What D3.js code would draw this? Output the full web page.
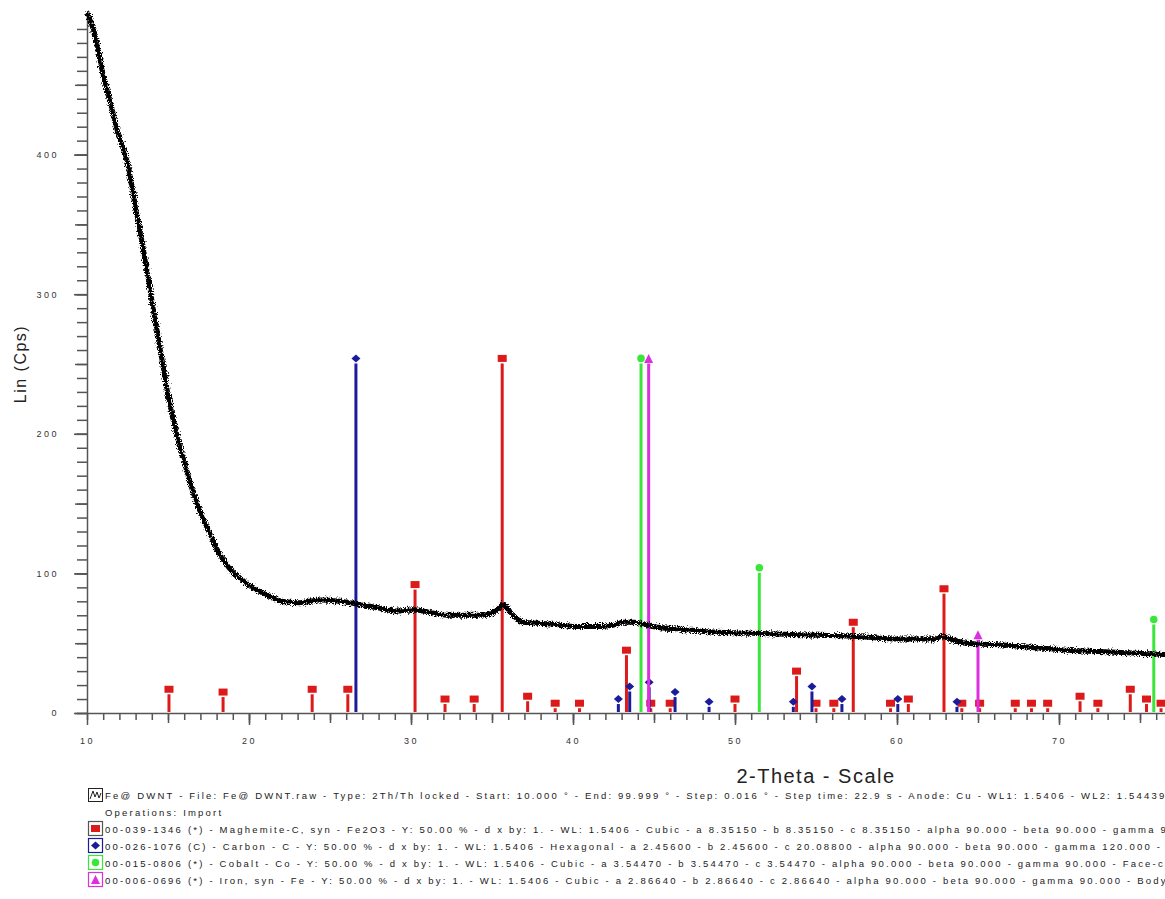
<!DOCTYPE html>
<html lang="en">
<head>
<meta charset="UTF-8">
<script src="https://d3js.org/d3.v7.min.js"></script>
<title>Fe@DWNT XRD</title>
<style>
  body { margin: 0; background: #fff; }
  svg text { font-family: "Liberation Sans", Arial, sans-serif; }
</style>
</head>
<body>
<div id="chart"></div>
<script>
// measured scan (2-theta, Lin Cps)
var scanTheta = [10.0, 10.5, 10.9, 11.4, 11.9, 12.5, 13.0, 13.5, 14.0, 14.5, 15.0, 15.55, 16.05, 16.55, 17.1, 17.6, 18.0, 19.0, 19.5, 20.2, 21.4, 22.0, 23.1, 24.4, 25.6, 26.7, 28.1, 29.1, 30.2, 31.2, 32.2, 33.3, 34.3, 35.1, 35.5, 35.7, 36.0, 36.3, 36.9, 38.4, 40.4, 41.7, 42.5, 43.1, 43.8, 44.9, 46.6, 48.6, 51.4, 54.0, 57.2, 60.2, 62.3, 62.8, 63.3, 64.3, 66.0, 68.4, 70.5, 72.5, 74.5, 76.2, 78.0];
var scanCps   = [502, 485, 462, 439, 416, 394, 362, 331, 296, 262, 228, 199, 178, 158, 141, 128, 118, 101, 96, 90, 83, 80, 79, 81, 80, 78, 75, 73, 74, 72, 70, 70, 70, 72, 76, 78, 74, 70, 65, 64, 62, 62, 63, 65, 65, 62, 60, 58, 57, 56, 55, 53, 53, 55, 53, 50, 49, 47, 45, 44, 43, 42, 41];

// reference patterns (stick positions and heights)
var maghemiteTheta = [15.06, 18.4, 23.9, 26.1, 30.25, 32.1, 33.9, 35.63, 37.2, 38.9, 40.4, 43.3, 44.8, 46.0, 50.0, 53.8, 55.0, 56.1, 57.3, 59.6, 60.7, 62.9, 64.0, 65.1, 67.3, 68.3, 69.3, 71.3, 72.4, 74.4, 75.4, 76.3];
var maghemiteI     = [17, 15, 17, 17, 92, 10, 10, 254, 12, 7, 7, 45, 7, 7, 10, 30, 7, 7, 65, 7, 10, 89, 7, 7, 7, 7, 7, 12, 7, 17, 10, 7];
var carbonTheta = [26.6, 42.8, 43.5, 44.7, 46.3, 48.4, 53.6, 54.75, 56.6, 60.05, 63.7];
var carbonI     = [254, 10, 19, 22, 15, 8, 8, 19, 10, 10, 8];
var cobaltTheta = [44.2, 51.5, 75.85];
var cobaltI     = [254, 104, 67];
var ironTheta = [44.67, 65.0];
var ironI     = [254, 56];

var yMajor = [0, 100, 200, 300, 400];
var xMajor = [10, 20, 30, 40, 50, 60, 70];

// legend lines, as far as the picture shows them
var legendScan = "Fe@ DWNT - File: Fe@ DWNT.raw - Type: 2Th/Th locked - Start: 10.000 ° - End: 99.999 ° - Step: 0.016 ° - Step time: 22.9 s - Anode: Cu - WL1: 1.5406 - WL2: 1.54439";
var legendOps = "Operations: Import";
var legendPhases = [
  "00-039-1346 (*) - Maghemite-C, syn - Fe2O3 - Y: 50.00 % - d x by: 1. - WL: 1.5406 - Cubic - a 8.35150 - b 8.35150 - c 8.35150 - alpha 90.000 - beta 90.000 - gamma 90.000",
  "00-026-1076 (C) - Carbon - C - Y: 50.00 % - d x by: 1. - WL: 1.5406 - Hexagonal - a 2.45600 - b 2.45600 - c 20.08800 - alpha 90.000 - beta 90.000 - gamma 120.000 -",
  "00-015-0806 (*) - Cobalt - Co - Y: 50.00 % - d x by: 1. - WL: 1.5406 - Cubic - a 3.54470 - b 3.54470 - c 3.54470 - alpha 90.000 - beta 90.000 - gamma 90.000 - Face-centered",
  "00-006-0696 (*) - Iron, syn - Fe - Y: 50.00 % - d x by: 1. - WL: 1.5406 - Cubic - a 2.86640 - b 2.86640 - c 2.86640 - alpha 90.000 - beta 90.000 - gamma 90.000 - Body"
];

var W = 1165, H = 899;
var svg = d3.select("#chart").append("svg")
    .attr("width", W).attr("height", H)
    .style("display", "block");

var x = d3.scaleLinear().domain([10, 100]).range([87, 1545]);
var y = d3.scaleLinear().domain([0, 500]).range([713, 15]);

// rough edge for the noisy scan line
var defs = svg.append("defs");
var f = defs.append("filter").attr("id", "rough")
    .attr("x", "-5%").attr("y", "-5%").attr("width", "110%").attr("height", "110%");
f.append("feTurbulence").attr("type", "fractalNoise").attr("baseFrequency", "1.2 0.9")
    .attr("numOctaves", 2).attr("seed", 3).attr("result", "n");
f.append("feDisplacementMap").attr("in", "SourceGraphic").attr("in2", "n")
    .attr("scale", 7).attr("xChannelSelector", "R").attr("yChannelSelector", "G");

// axes
var axisColor = "#555";
function styleAxis(g) {
  g.selectAll("path, line").attr("stroke", axisColor).attr("stroke-width", 1.5);
  g.selectAll("text").attr("fill", "#333").style("font-size", "9px").style("letter-spacing", "2.5px");
}

svg.append("g").attr("transform", "translate(87,0)")
  .call(d3.axisLeft(y).tickValues(d3.range(0, 500, 10)).tickSize(10).tickSizeOuter(0).tickFormat(""))
  .call(styleAxis);
svg.append("g").attr("transform", "translate(87,0)")
  .call(d3.axisLeft(y).tickValues(d3.range(0, 500, 50)).tickSize(12).tickFormat(""))
  .call(styleAxis).call(function (g) { g.select(".domain").remove(); });
svg.append("g").attr("transform", "translate(87,0)")
  .call(d3.axisLeft(y).tickValues(yMajor).tickSize(13).tickPadding(15).tickFormat(d3.format("d")))
  .call(styleAxis).call(function (g) { g.select(".domain").remove(); });

svg.append("g").attr("transform", "translate(0,713)")
  .call(d3.axisBottom(x).tickValues(d3.range(10, 101, 1)).tickSize(7).tickSizeOuter(0).tickFormat(""))
  .call(styleAxis);
svg.append("g").attr("transform", "translate(0,713)")
  .call(d3.axisBottom(x).tickValues(d3.range(15, 101, 5)).tickSize(10).tickFormat(""))
  .call(styleAxis).call(function (g) { g.select(".domain").remove(); });
svg.append("g").attr("transform", "translate(0,713)")
  .call(d3.axisBottom(x).tickValues(xMajor).tickSize(12).tickPadding(13).tickFormat(d3.format("d")))
  .call(styleAxis).call(function (g) { g.select(".domain").remove(); });

// axis titles
svg.append("text").attr("x", (x(10) + x(100)) / 2).attr("y", 783)
  .attr("text-anchor", "middle").attr("fill", "#222")
  .style("font-size", "20px").style("letter-spacing", "1.5px")
  .text("2-Theta - Scale");
svg.append("text").attr("transform", "translate(26," + ((y(0) + y(500)) / 2) + ") rotate(-90)")
  .attr("text-anchor", "middle").attr("fill", "#222")
  .style("font-size", "16px").style("letter-spacing", "1.5px")
  .text("Lin (Cps)");

// reference sticks
var phases = [
  { theta: maghemiteTheta, inten: maghemiteI, color: "#dd1a1a", shape: "square" },
  { theta: carbonTheta, inten: carbonI, color: "#1c1c9a", shape: "diamond" },
  { theta: cobaltTheta, inten: cobaltI, color: "#3be63b", shape: "circle" },
  { theta: ironTheta, inten: ironI, color: "#dd2ee0", shape: "triangle" }
];

function marker(g, shape, color, cx, cy) {
  if (shape === "square") {
    g.append("rect").attr("x", cx - 4.5).attr("y", cy - 3.5).attr("width", 9).attr("height", 7).attr("fill", color);
  } else if (shape === "diamond") {
    g.append("path").attr("d", "M" + (cx - 4.5) + "," + cy + "L" + cx + "," + (cy - 4) + "L" + (cx + 4.5) + "," + cy + "L" + cx + "," + (cy + 4) + "Z").attr("fill", color);
  } else if (shape === "circle") {
    g.append("circle").attr("cx", cx).attr("cy", cy).attr("r", 3.8).attr("fill", color);
  } else {
    g.append("path").attr("d", "M" + (cx - 4.5) + "," + (cy + 4.5) + "L" + cx + "," + (cy - 4.5) + "L" + (cx + 4.5) + "," + (cy + 4.5) + "Z").attr("fill", color);
  }
}

var sticks = svg.append("g");
phases.forEach(function (p) {
  p.theta.forEach(function (t, i) {
    var cx = x(t), top = y(p.inten[i]);
    sticks.append("line").attr("x1", cx).attr("x2", cx)
      .attr("y1", y(0) - 1).attr("y2", top + 5)
      .attr("stroke", p.color).attr("stroke-width", 3);
    marker(sticks, p.shape, p.color, cx, top);
  });
});

// scan line
var line = d3.line()
  .x(function (d, i) { return x(scanTheta[i]); })
  .y(function (d) { return y(d); })
  .curve(d3.curveMonotoneX);

svg.append("path").datum(scanCps)
  .attr("d", line)
  .attr("fill", "none").attr("stroke", "#000").attr("stroke-width", 5)
  .attr("filter", "url(#rough)");

// legend
var lg = svg.append("g").style("font-size", "9.5px").style("letter-spacing", "2.2px").attr("fill", "#222");
var lx = 105;
lg.append("rect").attr("x", 88.5).attr("y", 788.5).attr("width", 14).attr("height", 13)
  .attr("fill", "none").attr("stroke", "#222");
lg.append("path").attr("d", "M90,799L93,791L95,797L97,792L99,798L101,793")
  .attr("fill", "none").attr("stroke", "#222");
lg.append("text").attr("x", lx).attr("y", 799).text(legendScan);
lg.append("text").attr("x", lx).attr("y", 816).text(legendOps);

legendPhases.forEach(function (s, i) {
  var yy = 833 + i * 17;
  var p = phases[i];
  lg.append("rect").attr("x", 88.5).attr("y", yy - 11.5).attr("width", 14).attr("height", 14)
    .attr("fill", "#fff").attr("stroke", i === 0 ? "#555" : p.color).attr("stroke-width", 1.2);
  if (p.shape === "square") {
    lg.append("rect").attr("x", 91).attr("y", yy - 8).attr("width", 9).attr("height", 7).attr("fill", p.color);
  } else {
    marker(lg, p.shape, p.color, 95.5, yy - 4.5);
  }
  lg.append("text").attr("x", lx).attr("y", yy).text(s);
});
</script>
</body>
</html>
